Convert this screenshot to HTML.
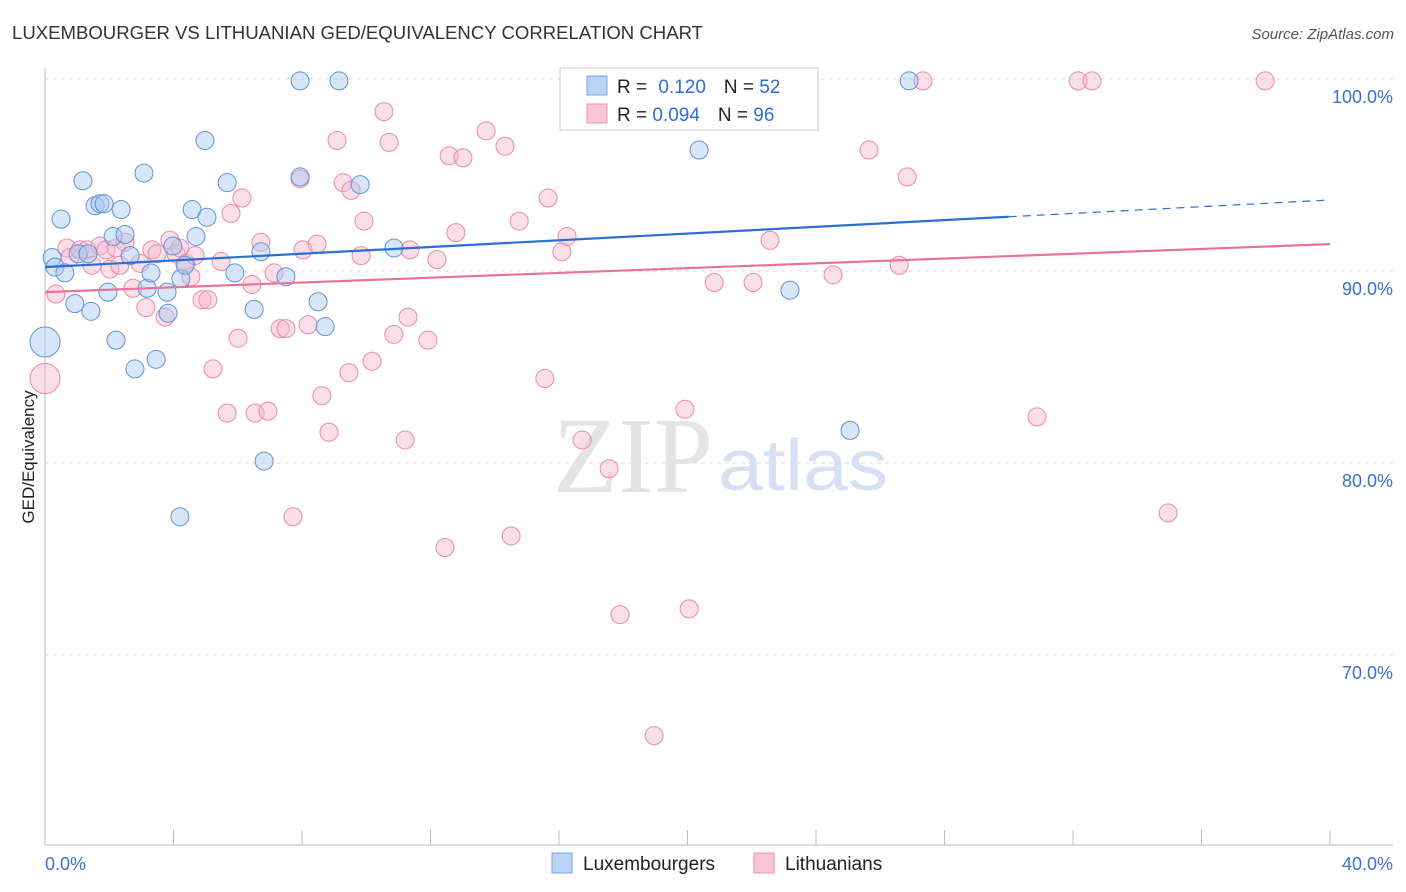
<!DOCTYPE html>
<html><head><meta charset="utf-8"><style>
body{margin:0;background:#fff;font-family:"Liberation Sans",sans-serif;}
#wrap{position:relative;width:1406px;height:892px;overflow:hidden;}
</style></head><body>
<div id="wrap">
<svg id="svg" width="1406" height="892" xmlns="http://www.w3.org/2000/svg">
<text x="12" y="39" font-size="18" fill="#333" textLength="691" lengthAdjust="spacingAndGlyphs">LUXEMBOURGER VS LITHUANIAN GED/EQUIVALENCY CORRELATION CHART</text>
<text x="1394" y="39" font-size="15" fill="#555" font-style="italic" text-anchor="end">Source: ZipAtlas.com</text>
<text x="34" y="457" font-size="17" fill="#222" text-anchor="middle" transform="rotate(-90 34 457)">GED/Equivalency</text>
<g id="grid"></g>
<text x="553" y="492" font-size="108" fill="#e4e4e4" font-family="Liberation Serif,serif" textLength="160" lengthAdjust="spacingAndGlyphs">ZIP</text>
<text x="718" y="490" font-size="72" fill="#d6e2f3" textLength="170" lengthAdjust="spacingAndGlyphs">atlas</text>
<g id="pts"></g>
<g id="trend"></g>
<g>
<rect x="560" y="68" width="258" height="62" fill="#fff" stroke="#ccc"/>
<rect x="587" y="76" width="20" height="19" fill="#b9d3f5" stroke="#7aa6e0"/>
<rect x="587" y="104" width="20" height="19" fill="#f9c6d5" stroke="#eb94b0"/>
<text x="617" y="93" font-size="19" fill="#222">R = <tspan fill="#2f6fd0" dx="6">0.120</tspan><tspan fill="#222" dx="18">N = </tspan><tspan fill="#2f6fd0">52</tspan></text>
<text x="617" y="121" font-size="19" fill="#222">R = <tspan fill="#2f6fd0">0.094</tspan><tspan fill="#222" dx="18">N = </tspan><tspan fill="#2f6fd0">96</tspan></text>
</g>
<g>
<rect x="552" y="853" width="20" height="20" fill="#b9d3f5" stroke="#7aa6e0"/>
<text x="583" y="870" font-size="19" fill="#222">Luxembourgers</text>
<rect x="754" y="853" width="20" height="20" fill="#f9c6d5" stroke="#eb94b0"/>
<text x="785" y="870" font-size="19" fill="#222">Lithuanians</text>
</g>
</svg>
</div>
<script>
const xTicks=[0,4,8,12,16,20,24,28,32,36,40];
const yTicks=[100,90,80,70];
const yTickLabels=["100.0%","90.0%","80.0%","70.0%"];
const xEndLabels=["0.0%","40.0%"];
const blueX=[0.22,0.31,0.5,0.62,0.93,1.03,1.18,1.34,1.43,1.56,1.71,1.84,1.96,2.12,2.21,2.37,2.49,2.65,2.8,3.08,3.18,3.3,3.46,3.8,3.83,3.98,4.2,4.23,4.36,4.58,4.7,4.98,5.04,5.67,5.91,6.51,6.72,6.82,7.5,7.94,7.94,8.5,8.72,9.15,9.81,10.86,20.36,23.19,25.06,26.9,0];
const blueY=[90.7,90.2,92.7,89.9,88.3,90.9,94.7,90.9,87.9,93.4,93.5,93.5,88.9,91.8,86.4,93.2,91.9,90.8,84.9,95.1,89.1,89.9,85.4,88.9,87.8,91.3,77.2,89.6,90.3,93.2,91.8,96.8,92.8,94.6,89.9,88.0,91.0,80.1,89.7,99.9,94.9,88.4,87.1,99.9,94.5,91.2,96.3,89.0,81.7,99.9,86.3];
const pinkX=[0,0.34,0.68,0.78,1.09,1.31,1.46,1.71,1.9,2.02,2.21,2.33,2.49,2.74,2.96,3.14,3.33,3.49,3.74,3.89,4.08,4.2,4.39,4.54,4.67,4.89,5.07,5.23,5.48,5.67,5.79,6.01,6.13,6.44,6.54,6.72,6.94,7.13,7.32,7.5,7.72,7.94,8.03,8.19,8.47,8.62,8.84,9.09,9.28,9.46,9.53,9.84,9.93,10.18,10.55,10.71,10.86,11.21,11.3,11.36,11.92,12.2,12.45,12.58,12.79,13.01,13.73,14.32,14.51,14.76,15.56,15.66,16.09,16.25,16.72,17.56,17.9,18.96,19.92,20.05,20.83,22.04,22.57,23.63,24.53,25.65,26.59,26.84,27.33,30.88,32.16,32.59,34.96,37.98];
const pinkY=[84.4,88.8,91.2,90.7,91.1,91.1,90.3,91.3,91.1,90.1,91.2,90.3,91.5,89.1,90.4,88.1,91.1,90.9,87.6,91.6,90.9,91.2,90.4,89.7,90.8,88.5,88.5,84.9,90.5,82.6,93.0,86.5,93.8,89.3,82.6,91.5,82.7,89.9,87.0,87.0,77.2,94.8,91.1,87.2,91.4,83.5,81.6,96.8,94.6,84.7,94.2,90.8,92.6,85.3,98.3,96.7,86.7,81.2,87.6,91.1,86.4,90.6,75.6,96.0,92.0,95.9,97.3,96.5,76.2,92.6,84.4,93.8,91.0,91.8,81.2,79.7,72.1,65.8,82.8,72.4,89.4,89.4,91.6,99.9,89.8,96.3,90.3,94.9,99.9,82.4,99.9,99.9,77.4,99.9];
const blueTrend=[90.2,93.7];
const pinkTrend=[88.9,91.4];
const blueSolidEnd=30;

const NS="http://www.w3.org/2000/svg";
const X=v=>45+v/40*1285;
const Y=v=>79+(100-v)*19.2;
function mk(tag,attrs,parent){const e=document.createElementNS(NS,tag);for(const k in attrs)e.setAttribute(k,attrs[k]);parent.appendChild(e);return e;}
const grid=document.getElementById('grid');
yTicks.forEach((t,i)=>{
  const l=mk('line',{x1:45,x2:1393,y1:Y(t),y2:Y(t),stroke:'#d8d8d8','stroke-dasharray':'4,4'},grid);
  
  
  const tx=mk('text',{x:1393,y:Y(t)+24,'font-size':18,fill:'#3b73c9','text-anchor':'end'},grid);
  tx.textContent=yTickLabels[i];
  
  
});
let ax=mk('line',{x1:45,x2:45,y1:68,y2:845,stroke:'#bbb'},grid);


ax=mk('line',{x1:45,x2:1393,y1:845,y2:845,stroke:'#bbb'},grid);


xTicks.forEach(t=>{
  const l=mk('line',{x1:X(t),x2:X(t),y1:830,y2:845,stroke:'#bbb'},grid);
  
  
});
[[0,'start',xEndLabels[0]],[40,'end',xEndLabels[1]]].forEach(([v,a,s])=>{
  const tx=mk('text',{x:a==='start'?X(v):1393,y:870,'font-size':18,fill:'#3b73c9','text-anchor':a},grid);
  tx.textContent=s;
  
  
});
const pts=document.getElementById('pts');
function draw(xs,ys,fill,stroke,name){
  xs.forEach((x,i)=>{
    const big=(x===0);
    const c=mk('circle',{cx:X(x),cy:Y(ys[i]),r:big?15:9,fill:fill,stroke:stroke,'stroke-width':1,'fill-opacity':0.45},pts);
    
    
  });
}
draw(pinkX,pinkY,'#f7b8cb','#e98aa8','lithuanian-point');
draw(blueX,blueY,'#a9c8f2','#5f93d8','luxembourger-point');
const tr=document.getElementById('trend');
const by=x=>blueTrend[0]+(blueTrend[1]-blueTrend[0])*x/40;
let l=mk('line',{x1:X(0),y1:Y(by(0)),x2:X(blueSolidEnd),y2:Y(by(blueSolidEnd)),stroke:'#2a6fd6','stroke-width':2.2},tr);


l=mk('line',{x1:X(blueSolidEnd),y1:Y(by(blueSolidEnd)),x2:X(40),y2:Y(by(40)),stroke:'#2a6fd6','stroke-width':1.2,'stroke-dasharray':'8,6'},tr);


l=mk('line',{x1:X(0),y1:Y(pinkTrend[0]),x2:X(40),y2:Y(pinkTrend[1]),stroke:'#e8729a','stroke-width':2.2},tr);


</script>
</body></html>
